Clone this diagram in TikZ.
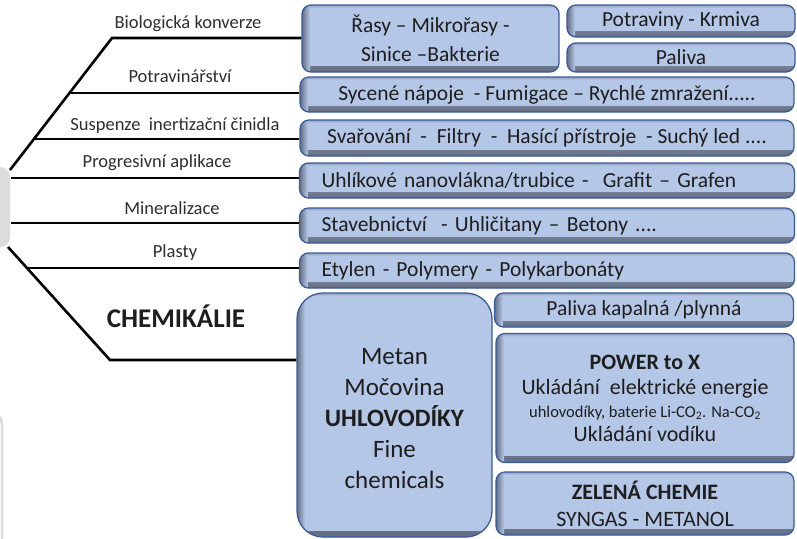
\documentclass[tikz,border=0pt]{standalone}
\usepackage{fontspec}
\setmainfont{Carlito}
\usetikzlibrary{calc}
\definecolor{boxfill}{HTML}{B4C7E7}
\definecolor{boxline}{HTML}{3A5C9C}
\definecolor{shadowc}{HTML}{646E82}
\definecolor{txt}{HTML}{1E1E1E}
\definecolor{lbl}{HTML}{2E2E2E}
\definecolor{greyshape}{HTML}{DCDCDC}
\tikzset{
  pbox/.style={draw=boxline, fill=boxfill, line width=1.3pt, rounded corners=#1,
    inner sep=0pt, text=txt, font=\fontsize{21.5}{29}\selectfont,
    path picture={
      \shade[sharp corners, bottom color=shadowc, top color=boxfill]
        (path picture bounding box.south west) rectangle ([yshift=6pt]path picture bounding box.south east);
      \shade[sharp corners, left color=shadowc, right color=boxfill]
        (path picture bounding box.south west) rectangle ([xshift=8pt]path picture bounding box.north west);
      \shade[sharp corners, top color=shadowc!40!boxfill, bottom color=boxfill]
        ([xshift=8pt]path picture bounding box.north west) rectangle ([yshift=-3pt]path picture bounding box.north east);
    }},
  pbox/.default=9pt,
  leftbox/.style={pbox, align=left, inner xsep=22pt, text width=451pt, minimum height=#1},
  cbox/.style={pbox, align=center},
  conn/.style={line width=2.6pt, black, line cap=butt},
  lbltext/.style={anchor=base, text=lbl, font=\fontsize{18.5}{20}\selectfont, inner sep=0pt},
}
\begin{document}
\begin{tikzpicture}[x=1pt, y=-1pt]
\useasboundingbox (0,0) rectangle (797,538);
\fill[white] (0,0) rectangle (797,538);
\clip (0,0) rectangle (797,538);

% partial grey shapes at the left edge
\fill[greyshape, rounded corners=10pt] (-40,167) rectangle (10,247);
\draw[greyshape, line width=2.5pt, rounded corners=12pt] (-60,412) rectangle (2,620);

% boxes
\node[cbox, minimum width=257pt, minimum height=67pt] (b1) at (430.5,38.5)
  {Řasy – Mikrořasy -\\Sinice –Bakterie};
\node[cbox, minimum width=228pt, minimum height=32pt] (b2) at (681,21) {Potraviny - Krmiva};
\node[cbox, minimum width=228pt, minimum height=29pt] (b3) at (681,57.5) {Paliva};
\node[cbox, minimum width=494pt, minimum height=35pt] (b4) at (547,94.5)
  {Sycené nápoje\ \ - Fumigace – Rychlé zmražení.....};
\node[cbox, minimum width=494pt, minimum height=36pt] (b5) at (547,138)
  {Svařování\ \ -\ \ Filtry\ \ -\ \ Hasící přístroje\ \ - Suchý led ....};
\node[leftbox=35pt] (b6) at (547,180.5) {Uhlíkové nanovlákna/trubice -\ \ Grafit – Grafen};
\node[leftbox=35pt] (b7) at (547,225.5) {Stavebnictví\ \ - Uhličitany – Betony ....};
\node[leftbox=35pt] (b8) at (547,270.5) {Etylen - Polymery - Polykarbonáty};

\node[pbox=26pt, minimum width=195pt, minimum height=244pt] (b9) at (394.5,415) {};
\node[text=txt, align=center, font=\fontsize{25}{31}\selectfont] (b9t) at (394.5,419)
  {Metan\\Močovina\\\textbf{UHLOVODÍKY}\\Fine\\chemicals};

\node[cbox, minimum width=299pt, minimum height=34pt] (b10) at (644,310) {Paliva kapalná /plynná};
\node[cbox=22pt, minimum width=298pt, minimum height=129pt, font=\fontsize{22}{25}\selectfont] (b11) at (645,398)
  {\textbf{POWER to X}\\Ukládání\ \ elektrické energie\\[-2pt]
   {\fontsize{16.5}{18}\selectfont uhlovodíky, baterie Li-CO\textsubscript{2}. Na-CO\textsubscript{2}}\\[-1pt]
   Ukládání vodíku};
\node[cbox=12pt, minimum width=298pt, minimum height=63pt, font=\fontsize{22}{27}\selectfont] (b12) at (645,503.5)
  {\textbf{ZELENÁ CHEMIE}\\SYNGAS - METANOL};

% connector skeleton
\coordinate (t0) at (10,170);
\coordinate (t1) at (112,38);
\coordinate (t2) at (69.5,93);
\coordinate (t3) at (34,139);
\coordinate (m1) at (11,178);
\coordinate (m2) at (11,223);
\coordinate (u0) at (8,247);
\coordinate (u1) at (110,360);
\coordinate (u2) at (27,268);

\draw[conn, line join=miter] (t0) -- (t1) -- (t1 -| b1.west);
\draw[conn] (t2) -- (t2 -| b4.west);
\draw[conn] (t3) -- (t3 -| b5.west);
\draw[conn] (m1) -- (m1 -| b6.west);
\draw[conn] (m2) -- (m2 -| b7.west);
\draw[conn] (u2) -- (u2 -| b8.west);
\draw[conn, line join=miter] (u0) -- (u1) -- (u1 -| b9.west);

% labels
\node[lbltext] (l1) at (188,28) {Biologická konverze};
\node[lbltext] (l2) at (180,82) {Potravinářství};
\node[lbltext] (l3) at (175,130) {Suspenze\ \ inertizační činidla};
\node[lbltext] (l4) at (157,167) {Progresivní aplikace};
\node[lbltext] (l5) at (172,214) {Mineralizace};
\node[lbltext] (l6) at (175,257) {Plasty};
\node[anchor=base, text=txt, font=\fontsize{27}{30}\selectfont\bfseries, inner sep=0pt] (l7) at (176,327) {CHEMIKÁLIE};
\end{tikzpicture}
\end{document}
